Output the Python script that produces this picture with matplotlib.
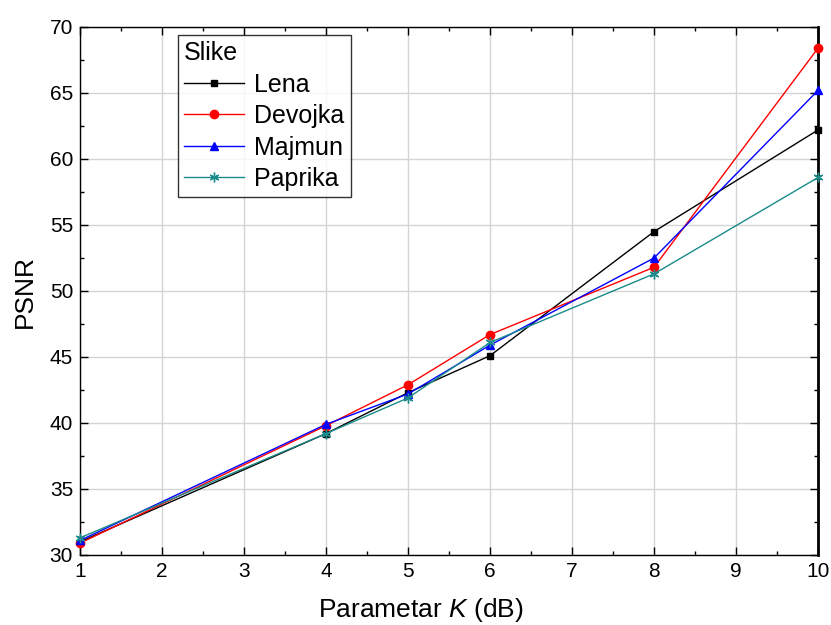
import matplotlib
matplotlib.use("Agg")
import matplotlib.pyplot as plt
from matplotlib.ticker import MultipleLocator

plt.rcParams["font.family"] = ["Liberation Sans", "DejaVu Sans"]
plt.rcParams["mathtext.fontset"] = "custom"
plt.rcParams["mathtext.it"] = "Liberation Sans:italic"

# data
k_values = [1, 4, 5, 6, 8, 10]
lena = [31.0, 39.2, 42.3, 45.1, 54.5, 62.2]
devojka = [30.9, 39.8, 42.9, 46.7, 51.8, 68.4]
majmun = [31.1, 39.9, 42.2, 45.9, 52.5, 65.2]
paprika = [31.3, 39.2, 41.9, 46.1, 51.3, 58.6]

series = [
    ("Lena", lena, "black", "s", 5),
    ("Devojka", devojka, "red", "o", 6),
    ("Majmun", majmun, "blue", "^", 6),
    ("Paprika", paprika, "#1a8a8a", (6, 2, 0), 7),
]

fig = plt.figure(figsize=(8.31, 6.25), dpi=100)
ax = fig.add_axes([0.0963, 0.112, 0.8881, 0.8448])

for name, vals, color, marker, ms in series:
    ax.plot(k_values, vals, color=color, marker=marker, markersize=ms,
            markeredgecolor=color, linewidth=1.0, label=name,
            clip_on=False, zorder=3)

ax.set_xlim(1, 10)
ax.set_ylim(30, 70)
ax.xaxis.set_major_locator(MultipleLocator(1))
ax.xaxis.set_minor_locator(MultipleLocator(0.5))
ax.yaxis.set_major_locator(MultipleLocator(5))
ax.yaxis.set_minor_locator(MultipleLocator(2.5))
ax.tick_params(which="both", direction="in", top=True, right=True,
               labelsize=15, width=1, pad=5)
ax.tick_params(which="major", length=6)
ax.tick_params(which="minor", length=3)
ax.grid(True, which="major", color="#d4d4d4", linewidth=1.0)
ax.set_axisbelow(True)
for side in ["left", "bottom", "top"]:
    ax.spines[side].set_linewidth(1.0)
ax.spines["right"].set_linewidth(2.0)

ax.set_xlabel("Parametar $\\mathit{K}$ (dB)", fontsize=19)
ax.xaxis.set_label_coords(0.462, -0.078)
ax.set_ylabel("PSNR", fontsize=19, labelpad=9)

leg = ax.legend(title="Slike", loc="upper left", bbox_to_anchor=(0.1328, 0.985),
                fontsize=18, title_fontsize=18, frameon=True, fancybox=False,
                edgecolor="black", handlelength=2.4, borderpad=0.25,
                labelspacing=0.3, handletextpad=0.4, borderaxespad=0)
leg._legend_box.align = "left"
leg.get_frame().set_linewidth(1.0)

fig.savefig("out.png", dpi=100)
